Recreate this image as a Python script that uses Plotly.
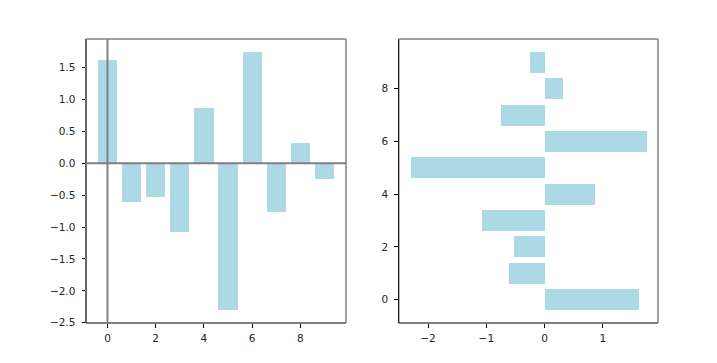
import plotly.graph_objects as go
from plotly.subplots import make_subplots

positions = [0, 1, 2, 3, 4, 5, 6, 7, 8, 9]
values = [1.624, -0.612, -0.528, -1.073, 0.865, -2.302, 1.745, -0.761, 0.319, -0.249]

left_yticks = [-2.5, -2.0, -1.5, -1.0, -0.5, 0.0, 0.5, 1.0, 1.5]
left_xticks = [0, 2, 4, 6, 8]
right_xticks = [-2, -1, 0, 1]
right_yticks = [0, 2, 4, 6, 8]

def fmt(v, dec):
    s = f"{abs(v):.{dec}f}"
    return ("\u2212" + s) if v < 0 else s

# page body has an 8px default margin; compensate so axes land where the reference has them
OFF = 8
W, H = 717, 363
ax1_l, ax1_r = 86 - OFF, 346 - OFF
ax2_l, ax2_r = 398.7 - OFF, 658 - OFF
ax_t, ax_b = 39 - OFF, 323 - OFF
ml, mr, mt, mb = ax1_l, W - ax2_r, ax_t, H - ax_b
pw = W - ml - mr

fig = make_subplots(rows=1, cols=2)
fig.add_trace(go.Bar(x=positions, y=values, width=0.8, marker_color="#ADD8E6",
                     marker_line_width=0, showlegend=False), row=1, col=1)
fig.add_trace(go.Bar(y=positions, x=values, width=0.8, orientation="h", marker_color="#ADD8E6",
                     marker_line_width=0, showlegend=False), row=1, col=2)

font = dict(family="DejaVu Sans", size=10.5, color="#262626")
rng_v = [-2.504, 1.947]
rng_p = [-0.89, 9.89]

common = dict(showgrid=False, zeroline=False, ticks="outside", ticklen=3.5, tickwidth=1,
              tickcolor="black", showline=False, tickfont=font)

fig.update_layout(
    width=W, height=H, margin=dict(l=ml, r=mr, t=mt, b=mb),
    plot_bgcolor="white", paper_bgcolor="white", bargap=0,
    xaxis=dict(domain=[0, (ax1_r - ml) / pw], range=rng_p, tickvals=left_xticks,
               ticktext=[str(t) for t in left_xticks], ticklabelstandoff=2, **common),
    yaxis=dict(range=rng_v, tickvals=left_yticks,
               ticktext=[fmt(t, 1) for t in left_yticks], ticklabelstandoff=4, **common),
    xaxis2=dict(domain=[(ax2_l - ml) / pw, 1], range=rng_v, tickvals=right_xticks,
                ticktext=[fmt(t, 0) for t in right_xticks], ticklabelstandoff=2, **common),
    yaxis2=dict(range=rng_p, tickvals=right_yticks,
                ticktext=[str(t) for t in right_yticks], ticklabelstandoff=4, **common),
)

shapes = []
for d in ("", "2"):
    shapes.append(dict(type="line", xref=f"x{d} domain", yref=f"y{d} domain", x0=0, x1=1, y0=0, y1=0,
                       line=dict(color="black", width=1.2)))
    shapes.append(dict(type="line", xref=f"x{d} domain", yref=f"y{d} domain", x0=0, x1=0, y0=0, y1=1,
                       line=dict(color="black", width=1.2)))
    shapes.append(dict(type="line", xref=f"x{d} domain", yref=f"y{d} domain", x0=0, x1=1, y0=1, y1=1,
                       line=dict(color="#808080", width=1.5)))
    shapes.append(dict(type="line", xref=f"x{d} domain", yref=f"y{d} domain", x0=1, x1=1, y0=0, y1=1,
                       line=dict(color="#808080", width=1.5)))
# reference lines at zero on left plot
shapes.append(dict(type="line", xref="x domain", yref="y", x0=0, x1=1, y0=0, y1=0,
                   line=dict(color="#808080", width=2)))
shapes.append(dict(type="line", xref="x", yref="y domain", x0=0, x1=0, y0=0, y1=1,
                   line=dict(color="#808080", width=2)))
fig.update_layout(shapes=shapes)

fig.write_html("out.html")
